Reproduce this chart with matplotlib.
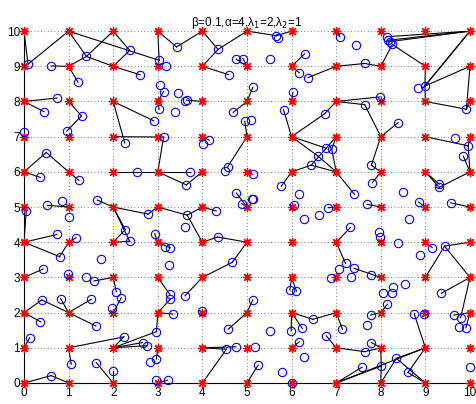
import numpy as np
import matplotlib
matplotlib.use('Agg')
import matplotlib.pyplot as plt

plt.rcParams['font.family'] = ['Liberation Sans', 'DejaVu Sans']

# grid of red stars (integer points)
star_pos = np.arange(0, 11)

# blue circles
circle_x = [0.09, 0.61, 1.21, 1.40, 2.37, 2.60, 3.42, 4.35, 3.03, 3.19, 4.59, 4.76, 4.91,
            5.66, 5.69, 7.08, 7.44, 5.51, 6.29, 6.17, 6.37, 7.64, 8.13, 8.16, 8.20, 8.26, 8.84, 8.99,
            0.74, 0.45, 1.29, 0.01, 0.96, 3.04, 3.13, 3.46, 3.62, 3.66, 3.03, 3.38, 2.91, 4.69, 4.95,
            5.10, 5.13, 6.03, 5.82, 6.74, 7.64, 7.98, 8.39, 9.92,
            2.26, 3.13, 4.02, 4.15, 0.50, 6.90, 6.78, 6.59, 6.44, 9.66, 9.96, 9.85, 7.79, 4.57, 4.50,
            0.37, 1.23, 2.53, 3.72, 3.64, 5.13, 5.77, 6.17, 6.05, 7.41, 7.81, 8.50, 9.31, 9.31, 4.76,
            4.88, 5.12,
            0.05, 0.52, 0.85, 1.02, 1.64, 2.27, 2.37, 0.74, 1.17, 2.78, 3.66, 4.31, 3.62, 2.93, 3.16,
            3.28, 4.34, 5.13, 6.28, 6.61, 6.82, 7.32, 8.85, 9.57, 7.69, 8.64, 7.96, 7.98, 8.39, 9.15,
            9.43,
            0.80, 1.73, 0.43, 0.99, 1.40, 1.57, 3.25, 4.67, 7.21, 7.06, 7.40, 7.33, 6.89, 7.79, 8.87,
            2.07, 2.18, 1.97, 0.40, 0.82, 1.51, 3.27, 3.28, 3.61, 5.13, 5.96, 6.11, 8.54, 8.28, 8.05,
            8.26, 8.15, 9.36,
            0.37, 1.61, 3.33, 4.00, 2.97, 4.58, 6.48, 6.24, 7.14, 5.52, 5.99, 6.78, 6.17, 7.77, 8.75,
            8.97, 7.68, 9.64, 9.79, 9.76, 9.91, 7.79, 0.13, 2.24, 2.66, 2.75,
            1.06, 1.62, 2.00, 0.61, 2.97, 2.82, 4.54, 4.75, 2.97, 3.22, 5.17, 6.28, 5.25, 5.79, 6.01,
            7.58, 7.64, 8.35, 8.01, 8.61, 10.0]
circle_y = [9.06, 9.01, 8.55, 9.28, 9.45, 8.76, 9.55, 9.48, 9.17, 9.00, 8.76, 9.20, 9.22,
            9.87, 9.80, 9.84, 9.60, 9.22, 9.35, 8.82, 8.68, 9.08, 9.84, 9.74, 9.70, 9.62, 8.37, 8.44,
            8.10, 7.71, 7.59, 7.13, 7.16, 8.47, 8.28, 8.23, 8.02, 8.05, 7.78, 7.71, 7.45, 7.69, 7.44,
            7.46, 8.40, 8.26, 7.76, 7.65, 7.91, 8.13, 7.40, 7.78,
            6.82, 6.99, 6.79, 6.90, 6.55, 6.64, 6.67, 6.45, 6.19, 6.95, 6.74, 6.45, 6.19, 6.15, 6.03,
            5.84, 5.76, 6.00, 6.00, 5.63, 5.93, 5.59, 5.37, 5.06, 5.36, 5.69, 5.42, 5.65, 5.56, 5.40,
            5.10, 5.24,
            4.89, 5.05, 5.17, 4.72, 5.20, 4.36, 4.03, 4.22, 4.13, 4.80, 4.77, 4.89, 4.42, 4.24, 3.86,
            3.84, 4.15, 5.22, 4.66, 4.77, 4.98, 4.42, 5.14, 5.12, 5.08, 4.65, 4.30, 4.14, 3.97, 3.85,
            3.89,
            3.59, 3.53, 3.24, 3.09, 3.02, 2.90, 3.36, 3.43, 3.40, 3.24, 3.26, 3.02, 2.99, 3.07, 3.63,
            2.59, 2.42, 2.12, 2.36, 2.40, 2.38, 2.52, 2.38, 2.48, 2.36, 2.64, 2.61, 2.81, 2.72, 2.57,
            2.56, 2.24, 2.55,
            1.74, 1.62, 1.96, 2.05, 1.46, 1.53, 1.81, 1.55, 1.53, 1.48, 1.48, 1.34, 1.17, 1.93, 1.96,
            1.95, 1.65, 1.93, 1.85, 1.60, 1.57, 1.15, 1.29, 1.31, 1.15, 1.06,
            0.53, 0.58, 0.34, 0.21, 0.68, 0.59, 0.96, 1.03, 0.08, 0.08, 1.01, 0.75, 0.51, 0.32, 0.00,
            0.45, 0.89, 0.70, 0.48, 0.30, 0.46]

# black links (x0, y0, x1, y1)
links = [
    (0, 10, 0.09, 9.06), (0.09, 9.06, 1, 10), (1, 10, 1.40, 9.28), (1, 10, 3.03, 9.17),
    (2, 10, 1.40, 9.28), (2, 10, 2.37, 9.45), (1, 9, 1.40, 9.28), (1, 9, 0.61, 9.01),
    (1, 9, 1.21, 8.55), (2, 9, 1.40, 9.28), (2, 9, 2.37, 9.45), (2, 9, 2.60, 8.76),
    (3, 10, 3.03, 9.17), (3, 9, 3.03, 9.17), (3, 10, 3.42, 9.55), (3.42, 9.55, 4, 10),
    (4, 10, 4.35, 9.48), (4.35, 9.48, 5, 10), (5, 10, 5.66, 9.87), (5.66, 9.87, 6, 10),
    (4, 9, 4.35, 9.48), (4, 9, 4.59, 8.76), (5, 9, 4.76, 9.20), (5, 9, 4.91, 9.22),
    (6, 9, 6.29, 9.35), (6, 9, 6.17, 8.82), (6.37, 8.68, 7, 9), (7, 9, 7.64, 9.08),
    (7.64, 9.08, 8, 9), (7, 10, 7.08, 9.84), (8, 9, 8.26, 9.62), (8.26, 9.62, 9, 9),
    (8.13, 9.84, 10, 10), (8.16, 9.74, 10, 10), (8.20, 9.70, 10, 10), (10, 10, 8.99, 8.44),
    (10, 10, 8.96, 8.40), (9, 9, 8.99, 8.44), (8.99, 8.44, 9, 8), (10, 9, 8.99, 8.44),
    (10, 9, 9.92, 7.78), (9, 8, 9.92, 7.78), (9.92, 7.78, 10, 8),
    (0, 8, 0.74, 8.10), (0, 8, 0.45, 7.71), (1, 8, 1.29, 7.59), (1.29, 7.59, 0.96, 7.16),
    (2, 8, 2.26, 6.82), (2, 8, 2.91, 7.45), (2, 7, 3.13, 6.99), (3.13, 6.99, 3, 6),
    (3, 8, 3.13, 8.28), (3, 8, 3.03, 7.78), (4, 8, 3.64, 8.04), (5, 8, 4.69, 7.69),
    (5, 8, 5.13, 8.40), (5, 7, 4.95, 7.44), (6, 8, 6.03, 8.26), (5.82, 7.76, 6, 7),
    (7, 8, 6.74, 7.65), (6.74, 7.65, 6, 7), (7, 8, 7.98, 8.13), (7, 8, 7.64, 7.91),
    (7.64, 7.91, 8, 7), (8, 7, 8.39, 7.40), (9, 7, 9.96, 6.74), (10, 7, 9.96, 6.74),
    (4, 7, 4.15, 6.90), (5, 7, 4.57, 6.15),
    (6, 7, 6.59, 6.45), (6.59, 6.45, 7, 6), (6, 7, 6.78, 6.67), (6, 6, 6.44, 6.19),
    (6.44, 6.19, 7, 6), (7, 7, 6.44, 6.19), (7, 7, 6.90, 6.64), (6.90, 6.64, 7, 6),
    (7, 6, 7.41, 5.36), (6, 6, 5.77, 5.59), (5, 6, 5.13, 5.93), (8, 7, 7.79, 6.19),
    (7.79, 6.19, 8, 6), (8, 6, 7.81, 5.69), (9, 6, 9.31, 5.65), (9, 6, 9.31, 5.56),
    (9.31, 5.56, 10, 6), (10, 6, 9.96, 6.74), (10, 6, 9.85, 6.45),
    (0, 6, 0.50, 6.55), (0.50, 6.55, 1, 6), (1, 6, 1.23, 5.76), (0, 6, 0.37, 5.84),
    (2, 6, 2.53, 6.00), (2.53, 6.00, 3, 6), (3, 6, 3.72, 6.00), (3, 6, 3.64, 5.63),
    (3.64, 5.63, 4, 6),
    (0, 5, 0.05, 4.89), (0.05, 4.89, 0, 4), (0.52, 5.05, 1, 5), (1.64, 5.20, 2, 5),
    (2, 5, 2.78, 4.80), (2.78, 4.80, 3, 5), (2, 5, 2.27, 4.36), (2, 5, 2.37, 4.03),
    (2, 4, 2.27, 4.36), (2, 4, 2.37, 4.03), (3, 5, 3.66, 4.77), (3.66, 4.77, 4, 5),
    (4, 5, 4.31, 4.89), (3.66, 4.77, 4, 4), (4, 4, 4.34, 4.15), (4.34, 4.15, 5, 4),
    (5, 5, 4.76, 5.40), (5, 5, 4.88, 5.10), (7, 5, 6.82, 4.98), (7.69, 5.08, 8, 5),
    (8.85, 5.14, 9, 5), (9.57, 5.12, 10, 5), (0, 4, 0.74, 4.22), (0, 4, 0.80, 3.59),
    (0.80, 3.59, 1, 4), (1, 4, 1.17, 4.13), (3, 4, 2.93, 4.24), (3, 4, 3.28, 3.84),
    (5, 4, 4.67, 3.43), (4, 3, 4.67, 3.43), (7, 4, 7.32, 4.42), (7, 4, 7.21, 3.40),
    (9, 4, 9.15, 3.85), (10, 4, 9.43, 3.89), (9.43, 3.89, 9, 3), (9.43, 3.89, 10, 3),
    (0, 3, 0.43, 3.24), (2, 3, 1.57, 2.90), (2, 3, 2.07, 2.59), (2.18, 2.42, 2, 2),
    (3, 3, 3.27, 2.52), (3.28, 2.38, 3, 2), (4, 3, 3.61, 2.48), (6, 3, 5.96, 2.64),
    (6, 3, 6.11, 2.61), (8, 3, 7.40, 3.26), (10, 3, 9.36, 2.55), (10, 3, 9.79, 1.85),
    (0, 2, 0.40, 2.36), (0.40, 2.36, 1, 2), (1, 2, 1.61, 1.62), (0, 2, 0.37, 1.74),
    (1, 2, 0.82, 2.40), (1, 2, 1.51, 2.38), (3, 2, 3.33, 1.96), (3, 2, 2.97, 1.46),
    (2, 1, 2.97, 1.46), (5, 2, 5.13, 2.36), (5, 2, 4.58, 1.53), (6, 2, 6.48, 1.81),
    (6.48, 1.81, 7, 2), (6, 2, 6.24, 1.55), (6, 2, 5.99, 1.48), (7, 2, 7.14, 1.53),
    (8, 2, 8.15, 2.24), (8, 2, 7.77, 1.93), (8.75, 1.96, 9, 1), (10, 2, 9.64, 1.93),
    (10, 2, 9.91, 1.57),
    (0, 1, 0.13, 1.29), (1, 1, 2.24, 1.31), (2, 1, 2.24, 1.31), (2, 1, 2.66, 1.15),
    (2, 1, 2.75, 1.06), (1, 1, 1.06, 0.53), (3, 1, 2.97, 0.68), (4, 1, 4.75, 1.03),
    (4, 1, 4.54, 0.96), (4.54, 0.96, 4, 0), (5, 0, 5.25, 0.51), (6, 1, 6.17, 1.17),
    (7, 1, 6.78, 1.34), (7, 1, 7.64, 0.89), (7.64, 0.89, 8, 1), (8, 1, 7.79, 1.15),
    (8, 1, 8.01, 0.48), (8.01, 0.48, 8, 0), (7, 0, 8.01, 0.48), (7, 0, 9, 1),
    (7, 0, 7.58, 0.45), (9, 1, 8.35, 0.70), (8.35, 0.70, 8, 0), (8.35, 0.70, 9, 0),
    (9, 1, 8.61, 0.30), (8.61, 0.30, 9, 0), (10, 0, 10, 0.46), (0, 0, 0.61, 0.21),
    (0.61, 0.21, 1, 0), (2, 0, 1.62, 0.58), (2, 0, 2.00, 0.34), (3, 0, 3.22, 0.08),
]

fig = plt.figure(figsize=(4.77, 4.04), dpi=100)
ax = fig.add_axes([0.0503, 0.052, 0.935, 0.871])

gx, gy = np.meshgrid(star_pos, star_pos)
ax.plot(gx.ravel(), gy.ravel(), linestyle='none', marker=(8, 2, 0), color='red',
        markersize=6.5, markeredgewidth=0.9, zorder=3, clip_on=False)

for x0, y0, x1, y1 in links:
    ax.plot([x0, x1], [y0, y1], color='black', linewidth=0.8, zorder=2)

ax.plot(circle_x, circle_y, linestyle='none', marker='o', markerfacecolor='none',
        markeredgecolor='blue', markersize=6, markeredgewidth=0.8, zorder=4, clip_on=False)

ax.set_xlim(0, 10)
ax.set_ylim(0, 10)
ax.set_xticks(star_pos)
ax.set_yticks(star_pos)
ax.grid(True, linestyle=(0, (1, 3)), color='#555555', linewidth=0.6)
ax.tick_params(direction='in', length=3, labelsize=8.5, pad=3)
ax.spines['top'].set_visible(False)
ax.spines['right'].set_visible(False)
for s in ('left', 'bottom'):
    ax.spines[s].set_linewidth(0.8)

ax.set_title('β=0.1,α=4,λ$_1$=2,λ$_2$=1', fontsize=8.5, pad=4)

fig.savefig('out.png', dpi=100)
